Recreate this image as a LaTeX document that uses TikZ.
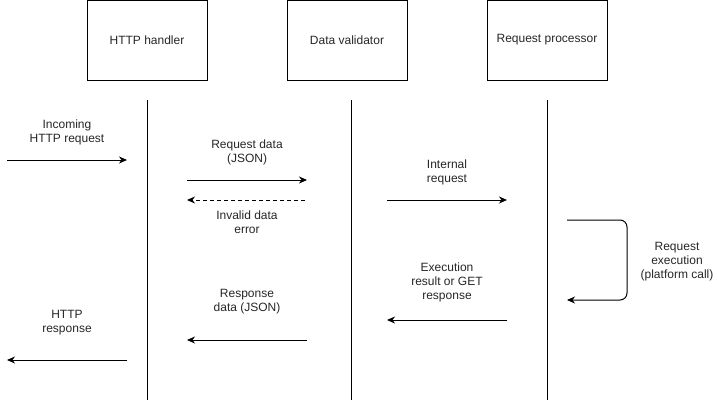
\documentclass[tikz,border=0pt]{standalone}
\usepackage{fontspec}
\setmainfont{Liberation Sans}
\usetikzlibrary{arrows.meta}
\begin{document}
\begin{tikzpicture}[x=1pt,y=-1pt,
  every node/.style={font=\fontsize{12}{14}\selectfont, text=black!85},
  actor/.style={draw, line width=1pt, minimum width=120pt, minimum height=80pt, inner sep=0pt},
  lifeline/.style={line width=1pt},
  msg/.style={line width=1pt, -{Stealth[length=8pt,width=7pt,inset=2.5pt]}},
  lbl/.style={align=center, inner sep=0pt}]
\useasboundingbox (0,0) rectangle (718,402);
% actors
\node[actor] (h) at (147,40) {HTTP handler};
\node[actor] (v) at (347,40) {Data validator};
\node[actor] (p) at (547,40) {Request processor};
% lifelines
\coordinate (hT) at (147,100); \coordinate (hB) at (147,400);
\coordinate (vT) at (351,100); \coordinate (vB) at (351,400);
\coordinate (pT) at (547,100); \coordinate (pB) at (547,400);
\draw[lifeline] (hT) -- (hB);
\draw[lifeline] (vT) -- (vB);
\draw[lifeline] (pT) -- (pB);
% message end points
\coordinate (a1) at (7,160);   \coordinate (a2) at (127,160);
\coordinate (b1) at (187,180); \coordinate (b2) at (307,180);
\coordinate (c1) at (305,200); \coordinate (c2) at (187,200);
\coordinate (d1) at (387,200); \coordinate (d2) at (507,200);
\coordinate (e1) at (567,220); \coordinate (e2) at (567,300);
\coordinate (f1) at (507,320); \coordinate (f2) at (387,320);
\coordinate (g1) at (307,340); \coordinate (g2) at (187,340);
\coordinate (k1) at (127,360); \coordinate (k2) at (7,360);
% messages
\draw[msg] (a1) -- (a2);
\draw[msg] (b1) -- (b2);
\draw[msg, dashed, dash pattern=on 4pt off 3pt] (c1) -- (c2);
\draw[msg] (d1) -- (d2);
\draw[msg, rounded corners=7pt] (e1) -- (627,220) -- (627,300) -- (e2);
\draw[msg] (f1) -- (f2);
\draw[msg] (g1) -- (g2);
\draw[msg] (k1) -- (k2);
% labels
\node[lbl] (la) at (67,132) {Incoming\\HTTP request};
\node[lbl] (lb) at (247,152.5) {Request data\\(JSON)};
\node[lbl] (lc) at (247,222) {Invalid data\\error};
\node[lbl] (ld) at (447,172) {Internal\\request};
\node[lbl] (le) at (677,262) {Request\\execution\\(platform call)};
\node[lbl] (lf) at (447,282.5) {Execution\\result or GET\\response};
\node[lbl] (lg) at (247,302) {Response\\data (JSON)};
\node[lbl] (lk) at (67,322.5) {HTTP\\response};
\end{tikzpicture}
\end{document}
